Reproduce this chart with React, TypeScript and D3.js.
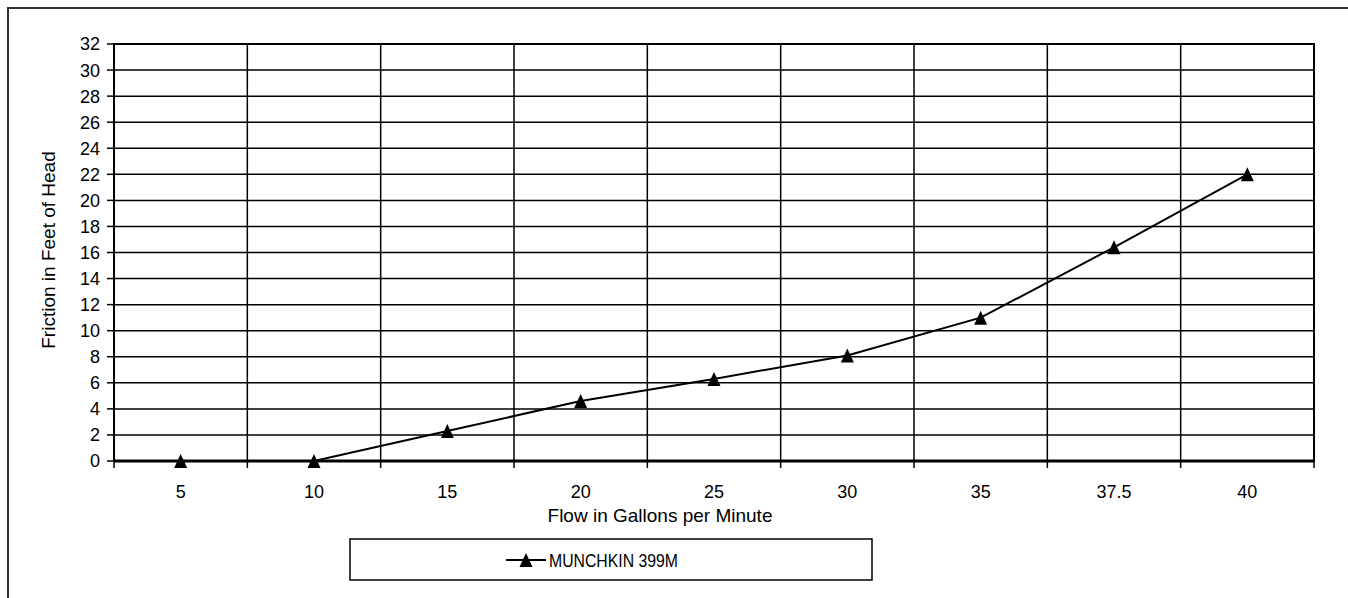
import * as d3 from 'd3'

const flows = ['5', '10', '15', '20', '25', '30', '35', '37.5', '40']
const friction = [0, 0, 2.3, 4.6, 6.3, 8.1, 11.0, 16.4, 22.0]
const yTicks = d3.range(0, 33, 2)
const seriesName = 'MUNCHKIN 399M'

const width = 1348
const height = 598
const marginLeft = 114
const marginRight = 34
const marginTop = 44
const plotBottom = 461

const font = 'Arial, "Liberation Sans", Helvetica, sans-serif'

// filled triangle marker centred on (cx, cy)
function triangle(cx: number, cy: number) {
  return `M${cx},${cy - 7} L${cx + 6.5},${cy + 7} L${cx - 6.5},${cy + 7} Z`
}

export default function App() {
  const x = d3.scaleBand<string>().domain(flows).range([marginLeft, width - marginRight])
  const y = d3.scaleLinear().domain([0, 32]).range([plotBottom, marginTop])

  const cx = (f: string) => (x(f) as number) + x.bandwidth() / 2
  const line = d3
    .line<number>()
    .x((_, i) => cx(flows[i]))
    .y((d) => y(d))

  const bounds = [...flows.map((f) => x(f) as number), width - marginRight]

  return (
    <svg
      width={width}
      height={height}
      style={{ position: 'absolute', left: 0, top: 0, background: '#fff' }}
      fontFamily={font}
    >
      {/* outer frame */}
      <rect x={8} y={8} width={width} height={height} fill="none" stroke="#333" strokeWidth={2} />

      {/* horizontal grid + y ticks */}
      {yTicks.map((t) => (
        <g key={t}>
          <line x1={marginLeft} x2={width - marginRight} y1={y(t)} y2={y(t)} stroke="#000" strokeWidth={1.5} />
          <line x1={marginLeft - 7} x2={marginLeft} y1={y(t)} y2={y(t)} stroke="#000" strokeWidth={1.5} />
          <text x={100} y={y(t)} dy="0.36em" textAnchor="end" fontSize={18}>
            {t}
          </text>
        </g>
      ))}

      {/* vertical grid + x ticks */}
      {bounds.map((b, i) => (
        <g key={i}>
          <line x1={b} x2={b} y1={marginTop} y2={plotBottom} stroke="#000" strokeWidth={1.5} />
          <line x1={b} x2={b} y1={plotBottom} y2={plotBottom + 7} stroke="#000" strokeWidth={1.5} />
        </g>
      ))}
      {flows.map((f) => (
        <text key={f} x={cx(f)} y={492} dy="0.36em" textAnchor="middle" fontSize={18}>
          {f}
        </text>
      ))}

      {/* plot frame */}
      <rect
        x={marginLeft}
        y={marginTop}
        width={width - marginRight - marginLeft}
        height={plotBottom - marginTop}
        fill="none"
        stroke="#000"
        strokeWidth={2}
      />
      <line x1={marginLeft} x2={width - marginRight} y1={plotBottom} y2={plotBottom} stroke="#000" strokeWidth={3} />

      {/* series */}
      <path d={line(friction) as string} fill="none" stroke="#000" strokeWidth={2} />
      {friction.map((v, i) => (
        <path key={i} d={triangle(cx(flows[i]), y(v))} fill="#000" />
      ))}

      {/* axis titles */}
      <text x={660} y={515} dy="0.36em" textAnchor="middle" fontSize={19}>
        Flow in Gallons per Minute
      </text>
      <text
        transform={`translate(48,250) rotate(-90)`}
        dy="0.36em"
        textAnchor="middle"
        fontSize={19}
      >
        Friction in Feet of Head
      </text>

      {/* legend */}
      <rect x={350} y={539} width={522} height={41} fill="#fff" stroke="#000" strokeWidth={1.5} />
      <line x1={506} x2={546} y1={560} y2={560} stroke="#000" strokeWidth={2} />
      <path d={triangle(526, 560)} fill="#000" />
      <text x={549} y={560} dy="0.36em" fontSize={19} textLength={129} lengthAdjust="spacingAndGlyphs">
        {seriesName}
      </text>
    </svg>
  )
}
